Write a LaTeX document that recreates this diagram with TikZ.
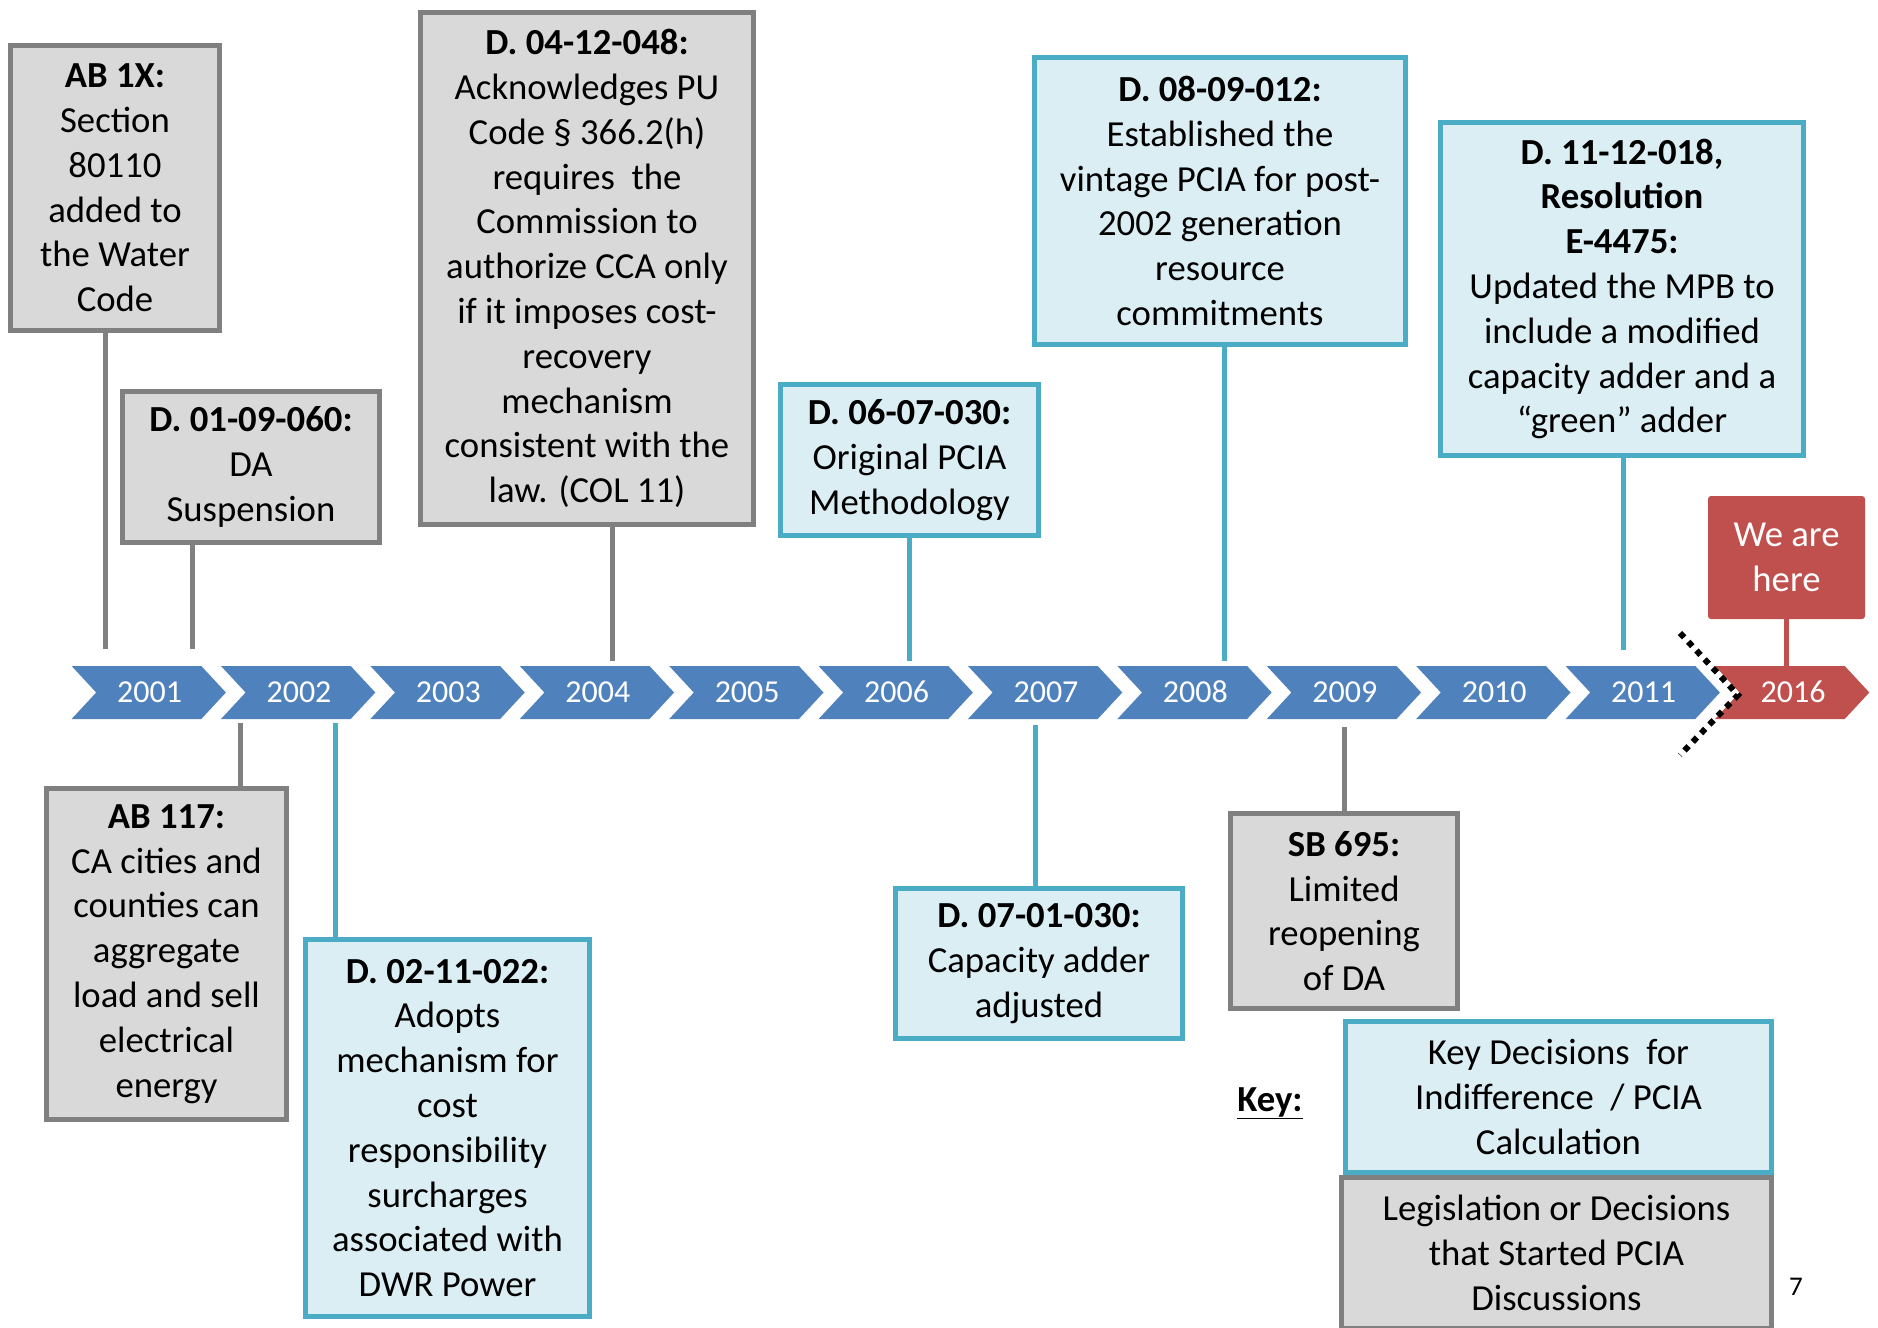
\documentclass[tikz,border=0pt]{standalone}
\usepackage{fontspec}
\setmainfont{Carlito}
\definecolor{bleuFrise}{HTML}{4F81BD}
\definecolor{rougeFrise}{HTML}{C0504D}
\definecolor{grisBord}{HTML}{808080}
\definecolor{grisFond}{HTML}{D9D9D9}
\definecolor{bleuBord}{HTML}{4BACC6}
\definecolor{bleuFond}{HTML}{DAEEF3}
\newcommand{\texteBoite}{\fontsize{36.7}{44.8}\selectfont}
\begin{document}
\begin{tikzpicture}[x=1pt,y=-1pt]
\useasboundingbox (0,0) rectangle (1878,1327);
% Styles (MODIFIABLES)
\tikzstyle{boiteGrise}=[draw=grisBord,fill=grisFond,line width=5pt,align=center,inner sep=0pt,font=\texteBoite]
\tikzstyle{boiteBleue}=[draw=bleuBord,fill=bleuFond,line width=5pt,align=center,inner sep=0pt,font=\texteBoite]
\tikzstyle{boiteRouge}=[fill=rougeFrise,rounded corners=3pt,text=white,align=center,inner sep=0pt,font=\texteBoite]
\tikzstyle{lienGris}=[draw=grisBord,line width=5pt]
\tikzstyle{lienBleu}=[draw=bleuBord,line width=5pt]
\tikzstyle{lienRouge}=[draw=rougeFrise,line width=5pt]
\tikzstyle{annee}=[text=white,inner sep=0pt,font=\fontsize{32}{38}\selectfont]
\tikzstyle{coupure}=[line width=6pt,dash pattern=on 6pt off 6pt]
% Dimensions (MODIFIABLES)
\def\GaucheChevron{71.6}
\def\PasAnnee{149.4}
\def\HautFrise{666}
\def\DemiHauteur{26.5}
\def\CorpsChevron{129.7}
\def\Pointe{24.6}
% Frise
\foreach \an [count=\i from 0] in {2001,...,2011} {
  \fill[bleuFrise] ({\GaucheChevron+\i*\PasAnnee},\HautFrise) -- ++(\CorpsChevron,0) -- ++(\Pointe,\DemiHauteur)
    -- ++(-\Pointe,\DemiHauteur) -- ++(-\CorpsChevron,0) -- ++(\Pointe,-\DemiHauteur) -- cycle;
  \node[annee] (a\an) at ({\GaucheChevron+\i*\PasAnnee+78},692) {\an};
}
\fill[rougeFrise] ({\GaucheChevron+11*\PasAnnee},\HautFrise) -- ++(\CorpsChevron,0) -- ++(\Pointe,\DemiHauteur)
  -- ++(-\Pointe,\DemiHauteur) -- ++(-\CorpsChevron,0) -- ++(\Pointe,-\DemiHauteur) -- cycle;
\node[annee] (a2016) at ({\GaucheChevron+11*\PasAnnee+78},692) {2016};
% Coupure
\coordinate (cA) at (1680,633);
\coordinate (cB) at (1738,695);
\coordinate (cC) at (1680,755);
\draw[coupure] (cA) -- (cB) -- (cC);
% Noeuds du haut
\node[boiteGrise,minimum width=209,minimum height=285] (ab1x) at (115,188)
  {\textbf{AB 1X:}\\Section\\80110\\added to\\the Water\\Code};
\node[boiteGrise,minimum width=257,minimum height=151] (d010960) at (251,467)
  {\textbf{D. 01-09-060:}\\DA\\Suspension};
\node[boiteGrise,minimum width=333,minimum height=512] (d041248) at (587,268.5)
  {\textbf{D. 04-12-048:}\\Acknowledges PU\\Code § 366.2(h)\\requires~ the\\Commission to\\authorize CCA only\\if it imposes cost-\\recovery\\mechanism\\consistent with the\\law. (COL 11)};
\node[boiteBleue,minimum width=258,minimum height=151] (d060730) at (909.5,460)
  {\textbf{D. 06-07-030:}\\Original PCIA\\Methodology};
\node[boiteBleue,minimum width=371,minimum height=287] (d080912) at (1220,201)
  {\textbf{D. 08-09-012:}\\Established the\\vintage PCIA for post-\\2002 generation\\resource\\commitments};
\node[boiteBleue,minimum width=363,minimum height=333] (d111218) at (1622,289)
  {\textbf{D. 11-12-018,}\\\textbf{Resolution}\\\textbf{E-4475:}\\Updated the MPB to\\include a modified\\capacity adder and a\\“green” adder};
\node[boiteRouge,minimum width=157,minimum height=123] (ici) at (1786.5,557.5) {We are\\here};
% Noeuds du bas
\node[boiteGrise,minimum width=240,minimum height=331] (ab117) at (166.5,954)
  {\textbf{AB 117:}\\CA cities and\\counties can\\aggregate\\load and sell\\electrical\\energy};
\node[boiteBleue,minimum width=284,minimum height=377] (d021122) at (447.5,1128)
  {\textbf{D. 02-11-022:}\\Adopts\\mechanism for\\cost\\responsibility\\surcharges\\associated with\\DWR Power};
\node[boiteBleue,minimum width=287,minimum height=150] (d070130) at (1039,963.5)
  {\textbf{D. 07-01-030:}\\Capacity adder\\adjusted};
\node[boiteGrise,minimum width=227,minimum height=195] (sb695) at (1344,911)
  {\textbf{SB 695:}\\Limited\\reopening\\of DA};
% Legende
\node[font=\texteBoite] (cle) at (1270,1103) {\underline{\textbf{Key:}}};
\node[boiteBleue,minimum width=426,minimum height=151] (cleBleue) at (1558.5,1097)
  {Key Decisions~ for\\Indifference~ / PCIA\\Calculation};
\node[boiteGrise,minimum width=430,minimum height=151] (cleGrise) at (1556.5,1253)
  {Legislation or Decisions\\that Started PCIA\\Discussions};
\node[font=\fontsize{27}{32}\selectfont] (page) at (1796,1287) {7};
% Points sur la frise
\coordinate (pAB1X) at (105,649);
\coordinate (p010960) at (192,649);
\coordinate (p041248) at (612,661);
\coordinate (p060730) at (909,661);
\coordinate (p080912) at (1224,661);
\coordinate (p111218) at (1623,650);
\coordinate (pIci) at (1786,666);
\coordinate (pAB117) at (240,723);
\coordinate (p021122) at (335,723);
\coordinate (p070130) at (1035,725);
\coordinate (pSB695) at (1344,727);
% Arcs (MODIFIABLES : Styles)
\draw[lienGris] (ab1x.south -| pAB1X)--(pAB1X);
\draw[lienGris] (d010960.south -| p010960)--(p010960);
\draw[lienGris] (d041248.south -| p041248)--(p041248);
\draw[lienBleu] (d060730.south -| p060730)--(p060730);
\draw[lienBleu] (d080912.south -| p080912)--(p080912);
\draw[lienBleu] (d111218.south -| p111218)--(p111218);
\draw[lienRouge] (ici.south -| pIci)--(pIci);
\draw[lienGris] (pAB117)--(ab117.north -| pAB117);
\draw[lienBleu] (p021122)--(d021122.north -| p021122);
\draw[lienBleu] (p070130)--(d070130.north -| p070130);
\draw[lienGris] (pSB695)--(sb695.north -| pSB695);
\end{tikzpicture}
\end{document}
